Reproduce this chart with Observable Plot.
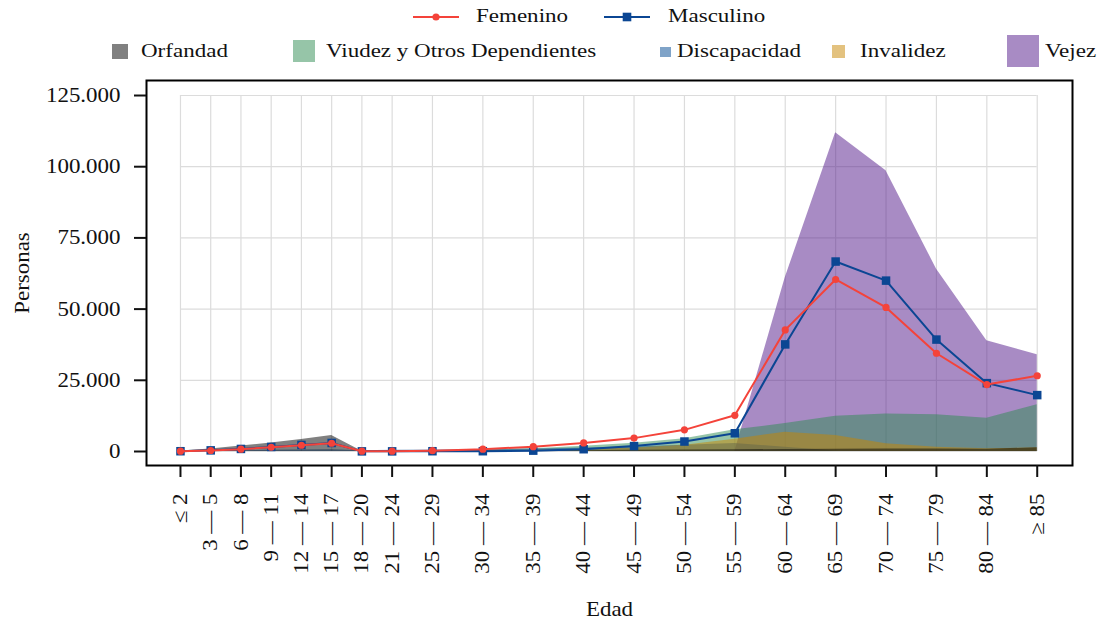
<!DOCTYPE html>
<html>
<head>
<meta charset="utf-8">
<script src="https://cdn.jsdelivr.net/npm/d3@7"></script>
<script src="https://cdn.jsdelivr.net/npm/@observablehq/plot@0.6"></script>
<style>
  body { margin: 0; background: white; font-family: "Liberation Serif", serif; }
  #legend { position: relative; width: 1100px; height: 70px; }
  #legend .t { position: absolute; font-family: "Liberation Serif", serif; font-size: 19.5px; line-height: 24px; white-space: nowrap; transform: scaleX(1.18); transform-origin: left center; color: #111; }
  #legend .sw { position: absolute; }
  #legend svg { position: absolute; overflow: visible; }
  #chart svg text { font-family: "Liberation Serif", serif; font-size: 20.5px; }
</style>
</head>
<body>
<div id="legend"></div>
<div id="chart"></div>
<script>
// ---- data ----
const ages = [0, 3, 6, 9, 12, 15, 18, 21, 25, 30, 35, 40, 45, 50, 55, 60, 65, 70, 75, 80, 85];
const ageLabels = ["≤ 2", "3 — 5", "6 — 8", "9 — 11", "12 — 14", "15 — 17", "18 — 20", "21 — 24", "25 — 29", "30 — 34", "35 — 39", "40 — 44", "45 — 49", "50 — 54", "55 — 59", "60 — 64", "65 — 69", "70 — 74", "75 — 79", "80 — 84", "≥ 85"];

const femenino  = [100, 350, 800, 1500, 2200, 2900, 100, 100, 300, 800, 1700, 3000, 4700, 7600, 12700, 42700, 60400, 50600, 34500, 23500, 26600];
const masculino = [100, 400, 900, 1600, 2300, 3000, 50, 50, 100, 100, 300, 800, 1900, 3500, 6400, 37600, 66700, 60000, 39300, 24000, 19800];

const orfandad     = [200, 900, 1900, 3000, 4200, 5600, 100, 100, 100, 150, 200, 300, 400, 500, 600, 700, 800, 900, 900, 800, 1300];
const viudez       = [0, 0, 0, 0, 0, 0, 0, 50, 200, 500, 1000, 1800, 2900, 4500, 7600, 9800, 12400, 13200, 12900, 11700, 16400];
const discapacidad = [100, 200, 300, 400, 500, 600, 300, 400, 500, 700, 900, 1200, 1600, 2200, 2800, 1500, 200, 100, 100, 100, 100];
const invalidez    = [0, 0, 0, 0, 0, 0, 0, 0, 50, 200, 400, 700, 1200, 2200, 4300, 6800, 5600, 2700, 1500, 950, 1300];
const vejez        = [0, 0, 0, 0, 0, 0, 0, 0, 0, 0, 0, 0, 0, 0, 0, 61000, 111900, 98600, 64100, 38900, 34000];

const yTicks = [0, 25000, 50000, 75000, 100000, 125000];

const areaSeries = [
  {name: "Orfandad", values: orfandad, color: "#010101", sw: [112, 43.5, 15.5]},
  {name: "Viudez y Otros Dependientes", values: viudez, color: "#2d8b51", sw: [293, 40, 22]},
  {name: "Discapacidad", values: discapacidad, color: "#004791", sw: [660, 46.5, 10.5]},
  {name: "Invalidez", values: invalidez, color: "#c78500", sw: [832, 45, 12.7]},
  {name: "Vejez", values: vejez, color: "#511789", sw: [1007, 35, 32]}
];
const drawOrder = ["Vejez", "Viudez y Otros Dependientes", "Discapacidad", "Invalidez", "Orfandad"];
const lineSeries = [
  {name: "Femenino", values: femenino, color: "#f4433a", symbol: "circle", r: 3.6},
  {name: "Masculino", values: masculino, color: "#0b4693", symbol: "square", r: 4.8}
];

// ---- legend ----
const legend = document.getElementById("legend");
const linePos = [{x: 413, t: 476}, {x: 604, t: 668}];
lineSeries.forEach((s, i) => {
  const p = linePos[i];
  const svg = document.createElementNS("http://www.w3.org/2000/svg", "svg");
  svg.setAttribute("width", 46); svg.setAttribute("height", 14);
  svg.style.left = p.x + "px"; svg.style.top = "10px";
  const mk = s.symbol === "circle"
    ? `<circle cx="23" cy="7" r="3.6" fill="${s.color}"/>`
    : `<rect x="18.7" y="2.7" width="8.6" height="8.6" fill="${s.color}"/>`;
  svg.innerHTML = `<line x1="0" x2="46" y1="7" y2="7" stroke="${s.color}" stroke-width="2"/>` + mk;
  legend.appendChild(svg);
  const t = document.createElement("div");
  t.className = "t"; t.textContent = s.name;
  t.style.left = p.t + "px"; t.style.top = "4px";
  legend.appendChild(t);
});
const textLeft = [141, 326, 677, 860, 1045];
areaSeries.forEach((s, i) => {
  const d = document.createElement("div");
  d.className = "sw";
  d.style.left = s.sw[0] + "px"; d.style.top = s.sw[1] + "px";
  d.style.width = s.sw[2] + "px"; d.style.height = s.sw[2] + "px";
  d.style.background = s.color; d.style.opacity = 0.5;
  legend.appendChild(d);
  const t = document.createElement("div");
  t.className = "t"; t.textContent = s.name;
  t.style.left = textLeft[i] + "px"; t.style.top = "39px";
  legend.appendChild(t);
});

// ---- chart ----
const fmt = d => d3.format(",")(d).replace(/,/g, ".");
const labelOf = d => ageLabels[ages.indexOf(d)];

const areaMarks = drawOrder.map(n => {
  const s = areaSeries.find(a => a.name === n);
  return Plot.areaY(ages.map((a, i) => ({age: a, v: s.values[i]})), {x: "age", y: "v", fill: s.color, fillOpacity: 0.5});
});
const lineMarks = [];
[lineSeries[1], lineSeries[0]].forEach(s => {
  const rows = ages.map((a, i) => ({age: a, v: s.values[i]}));
  lineMarks.push(Plot.line(rows, {x: "age", y: "v", stroke: s.color, strokeWidth: 2}));
  lineMarks.push(Plot.dot(rows, {x: "age", y: "v", fill: s.color, symbol: s.symbol, r: s.r, stroke: "none"}));
});

const chart = Plot.plot({
  width: 1100,
  height: 551,
  marginTop: 10,
  marginLeft: 146,
  marginRight: 28,
  marginBottom: 156,
  style: {fontFamily: "Liberation Serif, serif", fontSize: "20.5px", color: "#111", background: "white"},
  x: {type: "linear", domain: [-3.37, 88.5]},
  y: {domain: [-4916, 130270]},
  marks: [
    Plot.ruleX(ages, {x: d => d, y1: 0, y2: 125000, stroke: "#dcdcdc", strokeWidth: 1.2}),
    Plot.ruleY(yTicks, {y: d => d, x1: 0, x2: 85, stroke: "#dcdcdc", strokeWidth: 1.2}),
    ...areaMarks,
    ...lineMarks,
    Plot.frame({stroke: "black", strokeWidth: 2}),
    Plot.axisX(ages, {tickFormat: labelOf, tickRotate: -90, tickSize: 12, tickPadding: 16, strokeWidth: 2, fontSize: 20.5,
      label: "Edad", labelAnchor: "center", labelArrow: "none", labelOffset: 150}),
    Plot.axisY(yTicks, {tickFormat: fmt, tickSize: 12, tickPadding: 14, strokeWidth: 2, fontSize: 20.5,
      label: "Personas", labelAnchor: "center", labelArrow: "none", labelOffset: 132})
  ]
});
document.getElementById("chart").appendChild(chart);

// widen the glyphs a little (the reference uses a wider Computer Modern face)
const sx = 1.12;
chart.querySelectorAll("text").forEach(t => {
  const ax = parseFloat(t.getAttribute("x")) || 0;
  const tr = t.getAttribute("transform") || "";
  t.setAttribute("transform", `${tr} translate(${ax},0) scale(${sx},1) translate(${-ax},0)`.trim());
});
</script>
</body>
</html>
